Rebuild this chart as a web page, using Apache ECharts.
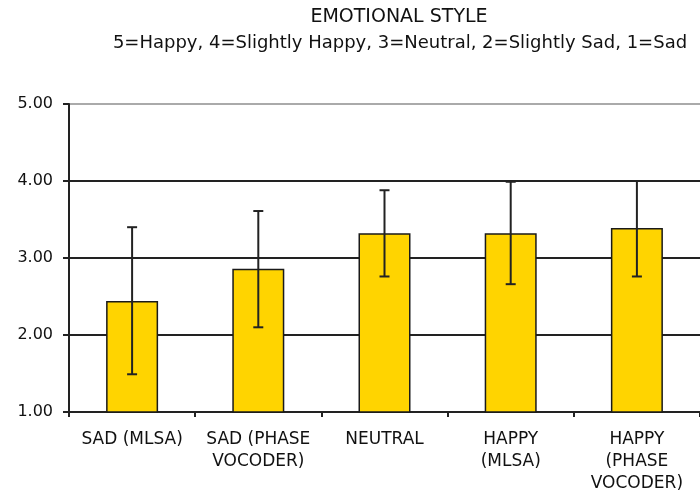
<!DOCTYPE html>
<html>
<head>
<meta charset="utf-8">
<script src="https://cdn.jsdelivr.net/npm/echarts@6/dist/echarts.min.js"></script>
<style>
  html, body { margin: 0; padding: 0; background: #fff; }
  #container { width: 700px; height: 495px; }
</style>
</head>
<body>
<div id="container"></div>
<script>
// data
const categories = ['SAD (MLSA)', 'SAD (PHASE\nVOCODER)', 'NEUTRAL', 'HAPPY\n(MLSA)', 'HAPPY\n(PHASE\nVOCODER)']
const means = [2.44, 2.86, 3.32, 3.32, 3.39]
const errLow = [1.49, 2.10, 2.76, 2.66, 2.76]
const errHigh = [3.40, 3.61, 3.88, 3.99, 4.00]
const titleText = 'EMOTIONAL STYLE'
const subText = '5=Happy, 4=Slightly Happy, 3=Neutral, 2=Slightly Sad, 1=Sad'

const font = 'DejaVu Sans'
const ink = '#111'

const dom = document.getElementById('container')
const myChart = echarts.init(dom, null, { renderer: 'canvas' })

// error bar: vertical line with small caps
function renderErr(params, api) {
  const x = api.value(0)
  const lo = api.coord([x, api.value(1)])
  const hi = api.coord([x, api.value(2)])
  const hw = 5
  const style = { stroke: '#222', lineWidth: 2 }
  return {
    type: 'group',
    children: [
      { type: 'line', shape: { x1: lo[0], y1: lo[1], x2: hi[0], y2: hi[1] }, style: style },
      { type: 'line', shape: { x1: lo[0] - hw, y1: lo[1], x2: lo[0] + hw, y2: lo[1] }, style: style },
      { type: 'line', shape: { x1: hi[0] - hw, y1: hi[1], x2: hi[0] + hw, y2: hi[1] }, style: style }
    ]
  }
}

const option = {
  animation: false,
  backgroundColor: '#fff',
  graphic: [
    {
      type: 'text', x: 399, y: 8,
      style: { text: titleText, textAlign: 'center', fill: ink, font: '19px "' + font + '"' }
    },
    {
      type: 'text', x: 400, y: 34,
      style: { text: subText, textAlign: 'center', fill: ink, font: '18px "' + font + '"' }
    }
  ],
  grid: { left: 69, top: 104, width: 640, height: 308 },
  xAxis: {
    type: 'category',
    data: categories,
    boundaryGap: true,
    axisLine: { lineStyle: { color: '#222', width: 2 } },
    axisTick: { show: true, interval: 0, length: 5, lineStyle: { color: '#222', width: 2 } },
    axisLabel: {
      interval: 0, margin: 17, color: ink,
      fontFamily: font, fontSize: 17, lineHeight: 22
    }
  },
  yAxis: {
    type: 'value',
    min: 1, max: 5, interval: 1,
    axisLine: { show: true, lineStyle: { color: '#222', width: 2 } },
    axisTick: { show: true, length: 6, lineStyle: { color: '#222', width: 2 } },
    axisLabel: {
      margin: 16, color: ink, fontFamily: font, fontSize: 16,
      formatter: v => v.toFixed(2)
    },
    splitLine: {
      show: true,
      lineStyle: { color: ['#222', '#222', '#222', '#222', '#aaa'], width: 2 }
    }
  },
  series: [
    {
      type: 'bar',
      data: means,
      barWidth: 52,
      itemStyle: { color: '#FFD400', borderColor: '#1a1a1a', borderWidth: 1.5 },
      z: 2
    },
    {
      type: 'custom',
      renderItem: renderErr,
      data: categories.map((c, i) => [i, errLow[i], errHigh[i]]),
      encode: { x: 0, y: [1, 2] },
      z: 10
    }
  ]
}

myChart.setOption(option)
</script>
</body>
</html>
